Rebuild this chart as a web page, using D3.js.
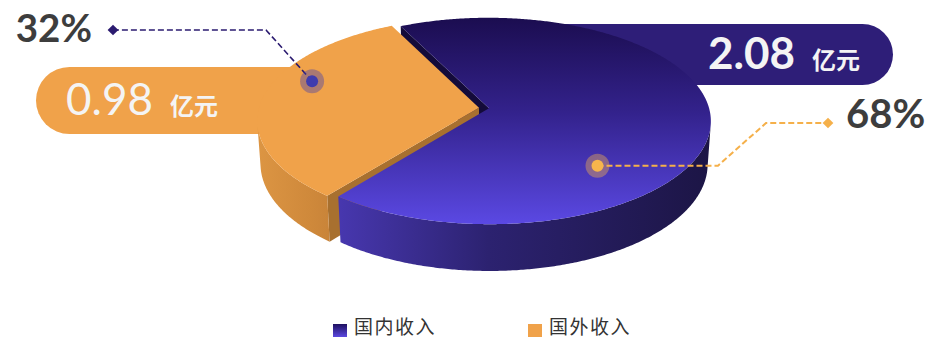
<!DOCTYPE html>
<html>
<head>
<meta charset="utf-8">
<script src="https://cdn.jsdelivr.net/npm/d3@7"></script>
<style>
  body { margin: 0; background: #fff; }
</style>
</head>
<body>
<div id="chart"></div>
<script>
// data
const categories = ['国内收入', '国外收入']
const amounts = [2.08, 0.98]
const percents = ['68%', '32%']
const unit = '亿元'

// label anchors on each slice: [angle in degrees, radius fraction]
const anchors = [[49, 0.70], [199, 0.83]]

const CONFIG = {
    width: 930,
    height: 339,
    cx: 484,
    cy: 108,
    radius: 220,
    tilt: 27.5 * Math.PI / 180,
    dist: 7.2,
    depth: 0.222,
    explode: 0.023,
    startDeg: 243.7
}
const sinB = Math.sin(CONFIG.tilt)
const cosB = Math.cos(CONFIG.tilt)
const camera = [0, CONFIG.dist * sinB, CONFIG.dist * cosB]

// world (X right, Y up, Z toward viewer) -> screen
function project(X, Y, Z) {
    const zc = Z * cosB + Y * sinB
    const yc = Y * cosB - Z * sinB
    const s = CONFIG.dist / (CONFIG.dist - zc)
    return [CONFIG.cx + X * s * CONFIG.radius, CONFIG.cy - yc * s * CONFIG.radius]
}

const svg = d3.select('#chart')
    .append('svg')
    .attr('width', CONFIG.width)
    .attr('height', CONFIG.height)
    .style('font-family', 'Lato, sans-serif')

const defs = svg.append('defs')
function linear(id, x1, y1, x2, y2, stops, units) {
    const g = defs.append('linearGradient')
        .attr('id', id)
        .attr('gradientUnits', units || 'userSpaceOnUse')
        .attr('x1', x1).attr('y1', y1).attr('x2', x2).attr('y2', y2)
    stops.forEach(([o, c]) => g.append('stop').attr('offset', o).attr('stop-color', c))
}
linear('blueTop', 0, 18, 0, 228, [[0, '#1b0d50'], [0.45, '#33228c'], [1, '#5c4ae6']])
linear('blueSide', 340, 0, 712, 0, [[0, '#4737ae'], [0.4, '#2c2270'], [1, '#1c1545']])
linear('orangeSide', 258, 0, 345, 0, [[0, '#dc9543'], [0.6, '#cf893b'], [1, '#c48037']])
linear('legendBlue', 0, 0, 0, 1, [[0, '#1e1060'], [1, '#5b48e0']], 'objectBoundingBox')

const topFill = ['url(#blueTop)', '#f0a24a']
const sideFill = ['url(#blueSide)', 'url(#orangeSide)']
const cutFill = ['#140b3a', '#a8702f']
const pillFill = ['#2e1e78', '#f0a24a']
const legendFill = ['url(#legendBlue)', '#f0a24a']
const lineColor = ['#f5b04a', '#2b1b70']
const dotColor = ['#f7b54c', '#3f3cae']

// value pills (behind the pie)
const pills = [
    { x: 500, y: 24, w: 393, h: 61, tx: 708, ty: 69, bold: 700 },
    { x: 36, y: 67, w: 380, h: 67, tx: 66, ty: 115, bold: 400 }
]
pills.forEach((p, i) => {
    svg.append('rect')
        .attr('x', p.x).attr('y', p.y)
        .attr('width', p.w).attr('height', p.h)
        .attr('rx', p.h / 2)
        .attr('fill', pillFill[i])
})

// pie
const rad = Math.PI / 180
const pie = d3.pie().sort(null)
    .startAngle(CONFIG.startDeg * rad)
    .endAngle(CONFIG.startDeg * rad + 2 * Math.PI)
const slices = pie(amounts).map((d, i) => {
    const mid = (d.startAngle + d.endAngle) / 2
    const ox = CONFIG.explode * Math.cos(mid)
    const oz = CONFIG.explode * Math.sin(mid)
    const pt = (t, r, y) => project(ox + r * Math.cos(t), y, oz + r * Math.sin(t))
    const thetas = d3.range(d.startAngle, d.endAngle, rad / 2).concat([d.endAngle])
    return { i, d, ox, oz, pt, thetas }
})

const line = d3.line()
const pieG = svg.append('g')

// radial cut faces
slices.forEach(s => {
    [[s.d.startAngle, -1], [s.d.endAngle, 1]].forEach(([phi, dir]) => {
        const n = phi + dir * Math.PI / 2
        const mx = s.ox + 0.5 * Math.cos(phi)
        const mz = s.oz + 0.5 * Math.sin(phi)
        const vis = Math.cos(n) * (camera[0] - mx) + Math.sin(n) * (camera[2] - mz)
        if (vis <= 0) return
        const pts = [s.pt(phi, 0, 0), s.pt(phi, 1, 0), s.pt(phi, 1, -CONFIG.depth), s.pt(phi, 0, -CONFIG.depth)]
        pieG.append('path')
            .attr('d', line(pts) + 'Z')
            .attr('fill', cutFill[s.i])
    })
})

// outer curved sides
slices.forEach(s => {
    const vis = s.thetas.filter(t => {
        const px = s.ox + Math.cos(t), pz = s.oz + Math.sin(t)
        return Math.cos(t) * (camera[0] - px) + Math.sin(t) * (camera[2] - pz) > 0
    })
    if (vis.length < 2) return
    const top = vis.map(t => s.pt(t, 1, 0))
    const bottom = vis.slice().reverse().map(t => s.pt(t, 1, -CONFIG.depth))
    pieG.append('path')
        .attr('d', line(top.concat(bottom)) + 'Z')
        .attr('fill', sideFill[s.i])
})

// tops
slices.forEach(s => {
    const pts = [s.pt(0, 0, 0)].concat(s.thetas.map(t => s.pt(t, 1, 0)))
    pieG.append('path')
        .attr('d', line(pts) + 'Z')
        .attr('fill', topFill[s.i])
})

// pill texts
pills.forEach((p, i) => {
    const t = svg.append('text')
        .attr('x', p.tx).attr('y', p.ty)
        .attr('fill', '#f4f4f4')
    t.append('tspan')
        .attr('font-size', 44)
        .attr('font-weight', p.bold)
        .text(amounts[i].toFixed(2))
    t.append('tspan')
        .attr('dx', 17)
        .attr('font-size', 24)
        .attr('font-weight', 700)
        .attr('font-family', '"Noto Sans CJK SC", sans-serif')
        .text(unit)
})

// leader lines and percentage labels
const labelLayout = [
    { elbows: a => [[718, a[1]], [766, 123], [828, 123]], tx: 846, ty: 128, anchor: 'start' },
    { elbows: a => [[266, 30], [113, 30]], tx: 92, ty: 42, anchor: 'end' }
]
slices.forEach(s => {
    const [deg, r] = anchors[s.i]
    const a = s.pt(deg * rad, r, 0)
    const L = labelLayout[s.i]
    const pts = [a].concat(L.elbows(a))
    svg.append('path')
        .attr('d', line(pts))
        .attr('fill', 'none')
        .attr('stroke', lineColor[s.i])
        .attr('stroke-width', s.i === 0 ? 2 : 1.6)
        .attr('stroke-dasharray', '6,3')
    const end = pts[pts.length - 1]
    svg.append('rect')
        .attr('x', -3.8).attr('y', -3.8)
        .attr('width', 7.6).attr('height', 7.6)
        .attr('transform', `translate(${end[0]},${end[1]}) rotate(45)`)
        .attr('fill', lineColor[s.i])
    svg.append('circle')
        .attr('cx', a[0]).attr('cy', a[1]).attr('r', 12)
        .attr('fill', dotColor[s.i]).attr('fill-opacity', 0.4)
    svg.append('circle')
        .attr('cx', a[0]).attr('cy', a[1]).attr('r', 6)
        .attr('fill', dotColor[s.i])
    svg.append('text')
        .attr('x', L.tx).attr('y', L.ty)
        .attr('text-anchor', L.anchor)
        .attr('font-size', s.i === 0 ? 40 : 38.5)
        .attr('font-weight', 700)
        .attr('fill', '#3d3d3d')
        .text(percents[s.i])
})

// legend
const legendX = d3.scaleOrdinal().domain(categories).range([333, 528])
const legend = svg.selectAll('.legend')
    .data(categories)
    .enter()
    .append('g')
    .classed('legend', true)
    .attr('transform', d => `translate(${legendX(d)}, 324)`)
legend.append('rect')
    .attr('width', 14).attr('height', 13)
    .attr('fill', (d, i) => legendFill[i])
legend.append('text')
    .attr('x', 21).attr('y', 10)
    .attr('font-size', 19)
    .attr('letter-spacing', 1.5)
    .attr('font-family', '"Noto Sans CJK SC", sans-serif')
    .attr('fill', '#333')
    .text(d => d)
</script>
</body>
</html>
